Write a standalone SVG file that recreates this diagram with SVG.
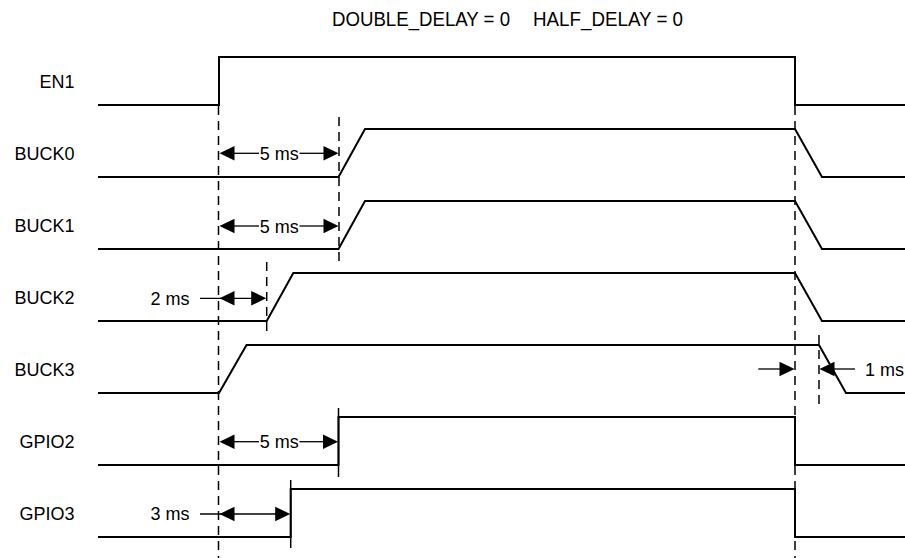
<svg xmlns="http://www.w3.org/2000/svg" width="905" height="558" viewBox="0 0 905 558">
<style>
.sig{fill:none;stroke:#000;stroke-width:2;stroke-linejoin:miter}
.dash{fill:none;stroke:#000;stroke-width:1.5;stroke-dasharray:9 6}
.dim{fill:none;stroke:#000;stroke-width:1.3}
.ext{fill:none;stroke:#000;stroke-width:1.5}
.head{fill:#000;stroke:none}
.lbl{font-family:"Liberation Sans",Arial,sans-serif;font-size:18px;fill:#000}
.ttl{font-family:"Liberation Sans",Arial,sans-serif;font-size:20px;fill:#000}
</style>
<rect width="905" height="558" fill="#fff"/>
<g id="title">
<text class="ttl" x="332" y="26" textLength="178" lengthAdjust="spacingAndGlyphs">DOUBLE_DELAY = 0</text>
<text class="ttl" x="533" y="26" textLength="150" lengthAdjust="spacingAndGlyphs">HALF_DELAY = 0</text>
</g>
<g id="EN1">
<text class="lbl" x="74.5" y="87.5" text-anchor="end">EN1</text>
<path class="sig" d="M98,105 H219 V57 H795 V105 H905"/>
</g>
<g id="BUCK0">
<text class="lbl" x="74.5" y="159.5" text-anchor="end">BUCK0</text>
<path class="sig" d="M98,177 H338.5 L365,129 H795 L822,177 H905"/>
</g>
<g id="BUCK1">
<text class="lbl" x="74.5" y="231.5" text-anchor="end">BUCK1</text>
<path class="sig" d="M98,249 H338.5 L365,201 H795 L822,249 H905"/>
</g>
<g id="BUCK2">
<text class="lbl" x="74.5" y="303.5" text-anchor="end">BUCK2</text>
<path class="sig" d="M98,321 H266.7 L293.3,273 H795 L822,321 H905"/>
</g>
<g id="BUCK3">
<text class="lbl" x="74.5" y="375.5" text-anchor="end">BUCK3</text>
<path class="sig" d="M98,393 H219 L246.5,345 H819 L846,393 H905"/>
</g>
<g id="GPIO2">
<text class="lbl" x="74.5" y="447.5" text-anchor="end">GPIO2</text>
<path class="sig" d="M98,465 H338.5 V417 H795 V465 H905"/>
</g>
<g id="GPIO3">
<text class="lbl" x="74.5" y="519.5" text-anchor="end">GPIO3</text>
<path class="sig" d="M98,537 H290.7 V489 H795 V537 H905"/>
</g>
<g id="connectors">
<line class="dash" x1="218.5" y1="106" x2="218.5" y2="558"/>
<line class="dash" x1="795" y1="106" x2="795" y2="558"/>
<line class="dash" x1="339" y1="117" x2="339" y2="262"/>
<line class="dash" x1="266.7" y1="262" x2="266.7" y2="333"/>
<line class="dash" x1="819" y1="335" x2="819" y2="407"/>
<line class="ext" x1="338.5" y1="408" x2="338.5" y2="477"/>
<line class="ext" x1="290.7" y1="480" x2="290.7" y2="548"/>
<line class="dim" x1="233" y1="153.3" x2="259" y2="153.3"/>
<line class="dim" x1="299.5" y1="153.3" x2="324" y2="153.3"/>
<path class="head" d="M219.5,153.3 L234.5,146 L234.5,160.6 Z"/>
<path class="head" d="M338.5,153.3 L323.5,146 L323.5,160.6 Z"/>
<text class="lbl" x="279.3" y="160" text-anchor="middle">5 ms</text>
<line class="dim" x1="233" y1="226" x2="259" y2="226"/>
<line class="dim" x1="299.5" y1="226" x2="324" y2="226"/>
<path class="head" d="M219.5,226 L234.5,218.7 L234.5,233.3 Z"/>
<path class="head" d="M338.5,226 L323.5,218.7 L323.5,233.3 Z"/>
<text class="lbl" x="279.3" y="232.7" text-anchor="middle">5 ms</text>
<line class="dim" x1="200" y1="298.3" x2="253" y2="298.3"/>
<path class="head" d="M219.5,298.3 L234.5,291 L234.5,305.6 Z"/>
<path class="head" d="M266.2,298.3 L251.2,291 L251.2,305.6 Z"/>
<text class="lbl" x="189.5" y="304.5" text-anchor="end">2 ms</text>
<line class="dim" x1="758.3" y1="369" x2="781" y2="369"/>
<path class="head" d="M794.5,369 L779.5,361.7 L779.5,376.3 Z"/>
<line class="dim" x1="833" y1="369" x2="855" y2="369"/>
<path class="head" d="M819.5,369 L834.5,361.7 L834.5,376.3 Z"/>
<text class="lbl" x="904" y="376" text-anchor="end">1 ms</text>
<line class="dim" x1="233" y1="441.7" x2="259" y2="441.7"/>
<line class="dim" x1="299.5" y1="441.7" x2="324" y2="441.7"/>
<path class="head" d="M219.5,441.7 L234.5,434.4 L234.5,449 Z"/>
<path class="head" d="M338,441.7 L323,434.4 L323,449 Z"/>
<text class="lbl" x="279.3" y="448.3" text-anchor="middle">5 ms</text>
<line class="dim" x1="200" y1="514" x2="277" y2="514"/>
<path class="head" d="M219.5,514 L234.5,506.7 L234.5,521.3 Z"/>
<path class="head" d="M290.2,514 L275.2,506.7 L275.2,521.3 Z"/>
<text class="lbl" x="189.5" y="520" text-anchor="end">3 ms</text>
</g>
</svg>
